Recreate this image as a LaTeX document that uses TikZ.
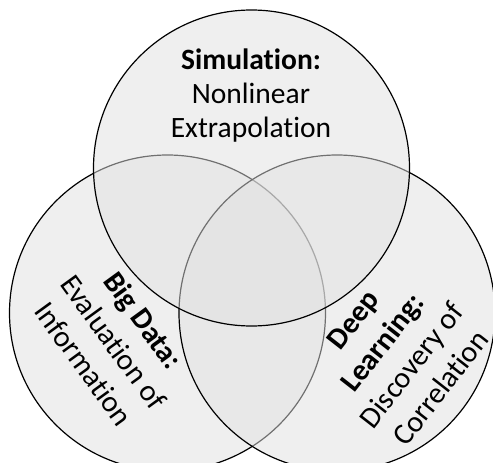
\documentclass[tikz,border=0pt]{standalone}
\usepackage{fontspec}
\setmainfont{Carlito}[Ligatures=NoCommon]
\usepackage{tikz}

\begin{document}
\begin{tikzpicture}[x=1pt, y=-1pt,
    set/.style={circle, draw=black, line width=1.2pt, fill=black!12, fill opacity=0.5,
      minimum size=316pt, inner sep=0pt, outer sep=0pt},
    settext/.style={align=center, font=\fontsize{29.5}{34}\selectfont},
    tilttext/.style={settext, font=\fontsize{30}{37}\selectfont}]
  \useasboundingbox (0,0) rectangle (493,463);
  \clip (0,0) rectangle (493,463);
  % Sets
  \foreach \n/\x/\y in {bigdata/167.5/313, deeplearn/337/313, simulation/251.5/168} {
    \node[set] (\n) at (\x,\y) {};
  }
  % Labels
  \node[settext] (simtext) at (251,96) {\textbf{Simulation:}\\Nonlinear\\Extrapolation};
  \node[tilttext, rotate=-54] (bdtext) at (114,342) {\textbf{Big Data:}\\Evaluation of\\Information};
  \node[tilttext, rotate=52] (dltext) at (397,354) {\textbf{Deep}\\\textbf{Learning:}\\Discovery of\\Correlation};
\end{tikzpicture}
\end{document}
